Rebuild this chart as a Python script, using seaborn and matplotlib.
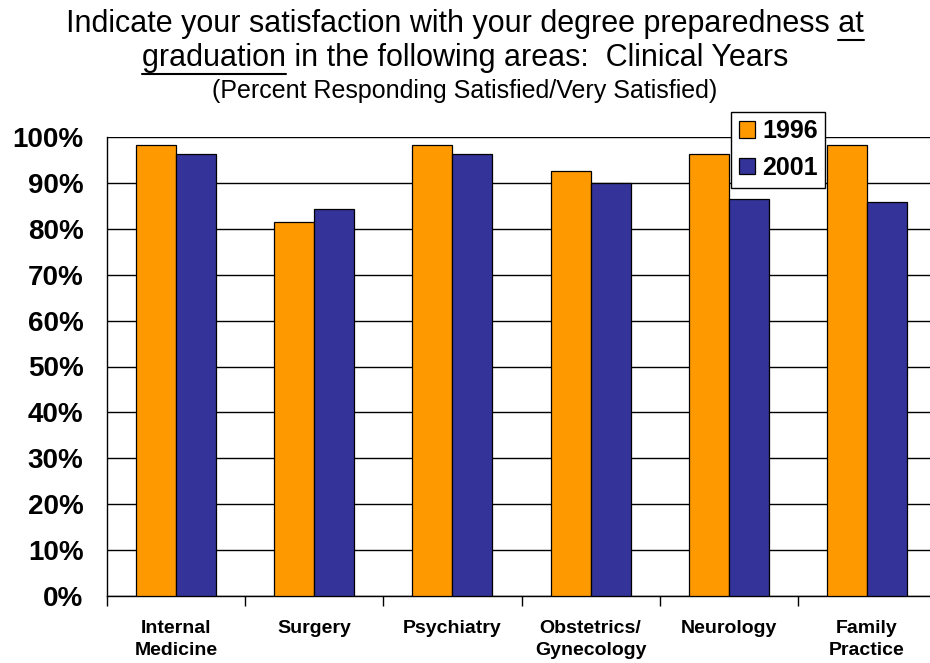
import matplotlib
matplotlib.use("Agg")
import matplotlib.pyplot as plt
from matplotlib.font_manager import FontProperties
from matplotlib.lines import Line2D
from matplotlib.ticker import FixedLocator, FuncFormatter
import pandas as pd
import seaborn as sns

# data
areas = ["Internal\nMedicine", "Surgery", "Psychiatry", "Obstetrics/\nGynecology",
         "Neurology", "Family\nPractice"]
years = ["1996", "2001"]
vals_1996 = [98.2, 81.4, 98.2, 92.6, 96.4, 98.2]
vals_2001 = [96.4, 84.4, 96.2, 90.0, 86.5, 85.8]
colors = ["#FF9900", "#333399"]

df = pd.DataFrame({
    "area": areas * 2,
    "year": [years[0]] * len(areas) + [years[1]] * len(areas),
    "pct": vals_1996 + vals_2001,
})

sns.set_theme(style="white")
plt.rcParams["font.family"] = ["Liberation Sans", "DejaVu Sans"]
plt.rcParams["text.color"] = "black"
plt.rcParams["xtick.color"] = "black"
plt.rcParams["ytick.color"] = "black"
plt.rcParams["axes.labelcolor"] = "black"

W, H = 930, 663
fig = plt.figure(figsize=(W / 100, H / 100), dpi=100)
ax = fig.add_axes([107 / W, 1 - 596 / H, 829 / W, (596 - 137) / H])

sns.barplot(data=df, x="area", y="pct", hue="year", palette=colors,
            width=0.58, edgecolor="black", linewidth=0.9, saturation=1,
            ax=ax, zorder=3)

ax.set_ylim(0, 100)
ax.set_xlim(-0.5, len(areas) - 0.5)
ax.set_yticks(range(0, 101, 10))
ax.yaxis.set_major_formatter(FuncFormatter(lambda v, p: f"{v:.0f}%"))
ax.grid(axis="y", color="black", linewidth=1.0, zorder=0)
ax.set_xlabel("")
ax.set_ylabel("")

for s in ["top", "right"]:
    ax.spines[s].set_visible(False)
for s in ["left", "bottom"]:
    ax.spines[s].set_color("black")
    ax.spines[s].set_linewidth(1.0)

ax.tick_params(axis="y", which="major", direction="out", length=7, width=1,
               color="black", labelcolor="black", labelsize=20, pad=10)
for lab in ax.get_yticklabels():
    lab.set_fontweight("bold")
ax.tick_params(axis="x", which="major", length=0, labelsize=14, pad=17,
               labelcolor="black")
for lab in ax.get_xticklabels():
    lab.set_fontweight("bold")
    lab.set_linespacing(1.45)
ax.xaxis.set_minor_locator(FixedLocator([i - 0.5 for i in range(len(areas) + 1)]))
ax.tick_params(axis="x", which="minor", direction="out", length=7, width=1,
               color="black", bottom=True)

leg = ax.legend(loc="upper left",
                bbox_to_anchor=((731 - 107) / 829, 1 + (137 - 112) / 459),
                frameon=True, fancybox=False, framealpha=1, edgecolor="black",
                prop={"weight": "bold", "size": 18}, handlelength=0.64,
                handleheight=0.64, handletextpad=0.3, borderpad=0.3,
                labelspacing=0.5, borderaxespad=0, labelcolor="black")
leg.get_frame().set_linewidth(1.0)
leg.set_zorder(10)

# title, with two underlined words
title_fp = FontProperties(family=["Liberation Sans", "DejaVu Sans"], size=22)
sub_fp = FontProperties(family=["Liberation Sans", "DejaVu Sans"], size=18)
line1 = ("Indicate your satisfaction with your degree preparedness ", "at", "")
line2 = ("", "graduation", " in the following areas:  Clinical Years")

fig.canvas.draw()
rend = fig.canvas.get_renderer()


def text_w(s):
    if not s:
        return 0.0
    return rend.get_text_width_height_descent(s, title_fp, ismath=False)[0]


for (pre, ul, post), base_y in [(line1, 32), (line2, 66)]:
    full = pre + ul + post
    fig.text(0.5, 1 - base_y / H, full, ha="center", va="baseline",
             fontproperties=title_fp, color="black")
    total = text_w(full)
    x0 = W / 2 - total / 2 + text_w(pre)
    x1 = x0 + text_w(ul)
    uy = 1 - (base_y + 8) / H
    fig.add_artist(Line2D([x0 / W, x1 / W], [uy, uy], transform=fig.transFigure,
                          color="black", linewidth=1.5))

fig.text(0.5, 1 - 98 / H, "(Percent Responding Satisfied/Very Satisfied)",
         ha="center", va="baseline", fontproperties=sub_fp, color="black")

fig.savefig("out.png", dpi=100)
